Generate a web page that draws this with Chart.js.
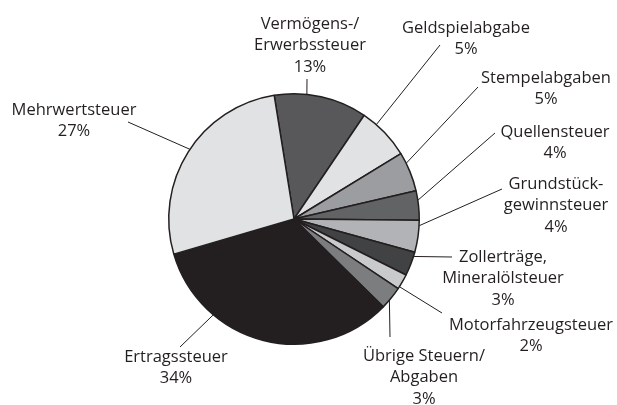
<!DOCTYPE html>
<html lang="de">
<head>
<meta charset="utf-8">
<title>Steuereinnahmen</title>
<script src="https://cdn.jsdelivr.net/npm/chart.js@4.4.0/dist/chart.umd.min.js"></script>
<style>
    html, body { margin: 0; padding: 0; background: #ffffff; }
    #wrap { width: 617px; height: 405px; position: relative; }
</style>
</head>
<body>
<div id="wrap"><canvas id="taxChart" width="617" height="405"></canvas></div>
<script>
// Categories (clockwise from the top)
const categories = [
    'Vermögens-/Erwerbssteuer',
    'Geldspielabgabe',
    'Stempelabgaben',
    'Quellensteuer',
    'Grundstückgewinnsteuer',
    'Zollerträge, Mineralölsteuer',
    'Motorfahrzeugsteuer',
    'Übrige Steuern/Abgaben',
    'Ertragssteuer',
    'Mehrwertsteuer'
];

// Slice sizes as drawn (in %)
const shares = [12.0, 6.8, 5.1, 3.8, 4.1, 3.1, 2.0, 3.0, 33.1, 27.0];

// Percentages printed in the labels
const printedPct = ['13%', '5%', '5%', '4%', '4%', '3%', '2%', '3%', '34%', '27%'];

// Label text split into lines
const labelLines = [
    ['Vermögens-/', 'Erwerbssteuer'],
    ['Geldspielabgabe'],
    ['Stempelabgaben'],
    ['Quellensteuer'],
    ['Grundstück-', 'gewinnsteuer'],
    ['Zollerträge,', 'Mineralölsteuer'],
    ['Motorfahrzeugsteuer'],
    ['Übrige Steuern/', 'Abgaben'],
    ['Ertragssteuer'],
    ['Mehrwertsteuer']
];

const sliceColors = [
    '#58585a', // Vermögens
    '#e1e2e4', // Geldspiel
    '#9c9da0', // Stempel
    '#626365', // Quellen
    '#b2b3b6', // Grundstück
    '#414243', // Zoll
    '#c9cacc', // Motor
    '#7c7d7f', // Übrige
    '#231f20', // Ertrag
    '#e1e2e4'  // Mehrwert
];

// Label layout: text centre x, first line y, leader start angle on the rim (deg, clockwise from top), leader end point
const labelLayout = [
    { x: 310, y: 24,  angle: 5.9,   end: [307, 79] },
    { x: 466, y: 28,  angle: 41.1,  end: [440, 45] },
    { x: 546, y: 78,  angle: 63.6,  end: [478, 87] },
    { x: 555, y: 132, angle: 81.4,  end: [495, 133] },
    { x: 556, y: 184, angle: 93.1,  end: [502, 189] },
    { x: 503, y: 257, angle: 107.4, end: [452, 257] },
    { x: 531, y: 325, angle: 122.7, end: [442, 313] },
    { x: 424, y: 356, angle: 130.4, end: [390, 337] },
    { x: 176, y: 357, angle: 220.1, end: [180, 347] },
    { x: 74,  y: 110, angle: 303.8, end: [128, 122] }
];

const INK = '#231f20';
const FONT = '16.5px "Open Sans", "DejaVu Sans", sans-serif';
const LINE_H = 21.5;

const leaderLabels = {
    id: 'leaderLabels',
    afterDraw(chart) {
        const ctx = chart.ctx;
        const arc = chart.getDatasetMeta(0).data[0];
        if (!arc) return;
        const cx = arc.x, cy = arc.y, r = arc.outerRadius;

        ctx.save();
        // Leader lines
        ctx.strokeStyle = INK;
        ctx.lineWidth = 1;
        labelLayout.forEach(l => {
            const a = l.angle * Math.PI / 180;
            ctx.beginPath();
            ctx.moveTo(cx + r * Math.sin(a), cy - r * Math.cos(a));
            ctx.lineTo(l.end[0], l.end[1]);
            ctx.stroke();
        });

        // Label text
        ctx.fillStyle = INK;
        ctx.font = FONT;
        ctx.textAlign = 'center';
        ctx.textBaseline = 'middle';
        labelLayout.forEach((l, i) => {
            const lines = labelLines[i].concat(printedPct[i]);
            lines.forEach((t, k) => ctx.fillText(t, l.x, l.y + k * LINE_H));
        });
        ctx.restore();
    }
};

new Chart(document.getElementById('taxChart'), {
    type: 'pie',
    data: {
        labels: categories,
        datasets: [{
            data: shares,
            backgroundColor: sliceColors,
            borderColor: INK,
            borderWidth: 1.5
        }]
    },
    options: {
        responsive: false,
        animation: false,
        rotation: -9.1,
        layout: {
            padding: { top: 93, bottom: 60, left: 168, right: 197 }
        },
        plugins: {
            legend: { display: false },
            tooltip: { enabled: false }
        }
    },
    plugins: [leaderLabels]
});
</script>
</body>
</html>
